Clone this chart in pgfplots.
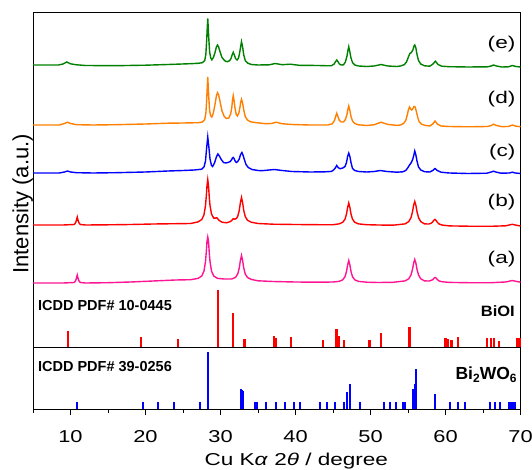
\documentclass[border=0pt]{standalone}
\usepackage{pgfplots}
\pgfplotsset{compat=1.18}
\usepackage{fontspec}
\setmainfont{Liberation Sans}
\definecolor{trA}{RGB}{255,20,147}
\definecolor{trB}{RGB}{255,0,0}
\definecolor{trC}{RGB}{0,0,255}
\definecolor{trD}{RGB}{255,128,0}
\definecolor{trE}{RGB}{0,128,0}
\newcommand\tickfont{\fontsize{17.2}{18}\selectfont}
\newcommand\labfont{\fontsize{17}{19}\selectfont}
\newcommand\pdffont{\bfseries\fontsize{14.5}{16}\selectfont}
\newcommand\sub[1]{\raisebox{-0.35ex}{\fontsize{12}{12}\selectfont #1}}

\begin{document}
\begin{tikzpicture}
\begin{axis}[
  name=main,
  scale only axis, width=487.5pt, height=396pt,
  xmin=5, xmax=70, ymin=0, ymax=396,
  xtick={10,20,...,70}, minor xtick={5,15,...,65},
  ytick=\empty, xtick pos=left,
  tick align=outside, major tick length=6pt, minor tick length=4pt,
  tick style={line width=1pt, black},
  axis line style={line width=1pt},
  xticklabel style={font=\tickfont, xscale=1.27, inner sep=0pt, yshift=-15pt},
  /pgf/number format/assume math mode=true,
  clip=false,
]
% (a)
\addplot[trA, line width=1.4pt] coordinates {
(5,126) (7,126) (9,126) (10.5,126.5) (10.7,128.5) (10.8,131) (10.9,134) (11,131) (11.1,128.5) (11.3,126.5) (12,126) (15,126.3) (18,127) (21,128) (24,129) (26,129.3) (27,130.6) (27.5,133) (27.8,138) (28,147.5) (28.1,156.5) (28.2,167.8) (28.3,172) (28.4,167.8) (28.5,156.5) (28.6,147.5) (28.8,138) (29.1,133) (29.6,130.6) (30.5,130) (31.5,130) (32,131.6) (32.3,135.1) (32.5,141) (32.65,148.5) (32.8,153.5) (32.95,148.5) (33.1,141) (33.3,135) (33.6,131.5) (34.1,129.6) (35,128.2) (37,127.5) (40,127) (43,126.8) (45,127) (45.8,127.6) (46.3,129.2) (46.6,132.3) (46.8,137.5) (46.95,144.1) (47.1,148.5) (47.25,144.1) (47.4,137.5) (47.6,132.3) (47.9,129.2) (48.4,127.6) (49.5,126.8) (51,126.5) (53,126.7) (54.6,128.1) (55.1,130.2) (55.4,134.1) (55.6,139.7) (55.75,145.9) (55.9,149.5) (56.05,145.9) (56.2,139.7) (56.4,134.1) (56.7,130.2) (57.2,128.1) (57.8,128) (58.1,128.6) (58.3,129.4) (58.45,130.7) (58.6,131.5) (58.75,131) (58.9,129.6) (59.1,128.2) (59.5,127.3) (60.5,126.6) (63,126.3) (66,126.3) (68,127) (68.5,127.8) (68.9,128.5) (69.3,127.8) (70,126.8)};
% (b)
\addplot[trB, line width=1.4pt] coordinates {
(5,184) (7,184) (9,184) (10.5,184.5) (10.7,186.5) (10.8,189) (10.9,192) (11,189) (11.1,186.5) (11.3,184.5) (12,184) (15,184.2) (18,184.5) (21,185) (24,185.3) (26,185.5) (27,187.1) (27.5,189.4) (27.8,194.3) (28,203.5) (28.1,212.3) (28.2,223.4) (28.3,229.5) (28.4,223.4) (28.5,212.3) (28.6,203.5) (28.8,195) (29.1,190.8) (29.3,190.9) (29.5,191.3) (29.8,188.7) (30.2,186.8) (30.8,186.2) (31.3,187.4) (31.5,188.6) (31.7,190.3) (31.9,189.9) (32.1,190.3) (32.3,192.7) (32.5,198.5) (32.65,206.3) (32.8,211.5) (32.95,206.3) (33.1,198.5) (33.3,192.4) (33.6,188.7) (34.1,186.8) (35,185.5) (37,184.8) (40,184.5) (43,184.3) (45,184.3) (45.8,185.1) (46.3,186.7) (46.6,189.8) (46.8,195) (46.95,201.6) (47.1,206) (47.25,201.6) (47.4,195) (47.6,189.8) (47.9,186.7) (48.4,185.1) (49.5,184.3) (51,184) (53,183.8) (54.6,185.1) (55.1,187.4) (55.4,191.4) (55.6,197.3) (55.75,203.8) (55.9,207.5) (56.05,203.8) (56.2,197.3) (56.4,191.4) (56.7,187.4) (57.2,185.1) (57.8,185) (58.1,185.8) (58.3,187.2) (58.45,188.8) (58.6,189.6) (58.75,188.6) (58.9,186.8) (59.1,185.2) (59.5,184) (60.5,183.1) (63,182.8) (66,182.7) (68,183.2) (68.5,184) (68.9,184.7) (69.3,184) (70,183)};
% (c)
\addplot[trC, line width=1.4pt] coordinates {
(5,236) (7,236) (8.5,236) (9.2,237) (9.6,238) (10,237) (10.8,236.3) (13,236) (16,236.3) (20,237) (23,238) (25,238.5) (26.5,239) (27.5,239.8) (27.8,242) (28,248) (28.15,261) (28.3,272) (28.45,262) (28.6,250) (28.8,243.5) (28.95,242.5) (29.2,246) (29.45,252) (29.65,255) (29.85,253) (30.1,249.5) (30.4,246.5) (30.7,246) (31,246.5) (31.3,247.5) (31.5,249.5) (31.6,251) (31.7,251.5) (31.8,250.5) (31.95,248) (32.1,246.5) (32.3,247.5) (32.5,250) (32.65,254) (32.85,256.5) (33,254) (33.2,249) (33.4,244.5) (33.7,241.5) (34.2,239.5) (35,238.5) (35.5,238.3) (36.5,239) (37.2,239.5) (38,238.7) (39.5,237.5) (42,237) (44,237.2) (44.8,237.6) (45.1,239.2) (45.3,241) (45.5,243.5) (45.7,241.3) (45.95,240.3) (46.3,241) (46.6,242.5) (46.8,246.5) (46.95,252.6) (47.1,256) (47.25,252.6) (47.4,246.5) (47.6,240.6) (47.9,238.5) (48.4,237.5) (49.5,237) (50.5,237.5) (51.3,238.5) (52.2,237.5) (53.5,236.8) (54.3,237.2) (54.7,238.5) (55,241.5) (55.2,244) (55.4,246) (55.6,249) (55.75,253) (55.9,258) (56.05,254) (56.2,248) (56.4,242) (56.7,239) (57.2,237.3) (57.9,237) (58.3,238.5) (58.6,240.5) (58.9,238.5) (59.4,236.8) (60.5,236) (63,235.5) (65.5,235.8) (66.1,237) (66.4,237.8) (66.7,237) (67.4,235.8) (68.5,236) (68.9,236.8) (69.3,236) (70,235.5)};
% (d)
\addplot[trD, line width=1.4pt] coordinates {
(5,284) (7,284) (8.5,284) (9.2,285.5) (9.6,286.8) (10,285.5) (10.8,284.3) (13,284) (16,284.3) (20,285) (23,285.8) (25,286) (27,286.3) (27.6,287) (27.9,289.5) (28.05,296) (28.15,308) (28.3,332) (28.45,310) (28.55,298) (28.7,293) (28.85,292) (29.05,296) (29.25,304) (29.45,313) (29.6,316.3) (29.75,314) (29.95,307) (30.2,298) (30.5,292.5) (30.8,290.5) (31.1,291) (31.35,295) (31.5,301) (31.6,309) (31.7,313.3) (31.8,309) (31.95,300) (32.1,294.5) (32.25,293) (32.45,296) (32.6,302) (32.7,307) (32.8,309.7) (32.95,306) (33.1,299) (33.3,292.5) (33.6,289) (34,287.2) (34.8,286.3) (36,285.3) (36.8,285.5) (37.4,286.8) (38.2,285.3) (39.5,284.5) (42,284) (44.3,284) (44.9,285.2) (45.2,288.5) (45.35,292.5) (45.5,295.7) (45.65,292.5) (45.85,288.5) (46.1,287) (46.4,287) (46.65,289.5) (46.85,294) (46.95,298.5) (47.1,303) (47.25,298.5) (47.4,292.5) (47.6,288) (47.9,285.5) (48.4,284.2) (49.5,283.5) (50.5,284.3) (51.4,286.8) (52.3,284.6) (53.5,283.6) (54,284) (54.4,285.5) (54.7,288.5) (54.9,294) (55.05,299) (55.2,302) (55.35,300) (55.5,299) (55.65,300.5) (55.8,302.5) (55.95,302) (56.1,298) (56.3,291.5) (56.5,287) (56.8,284.8) (57.3,283.6) (57.9,283) (58.3,285) (58.6,288) (58.9,285) (59.4,283) (60.5,282.5) (63,282.2) (65.6,282.5) (66.1,283.5) (66.4,284.8) (66.8,283.5) (67.5,282.4) (68.4,282.5) (68.9,284) (69.4,282.8) (70,282.3)};
% (e)
\addplot[trE, line width=1.4pt] coordinates {
(5,344) (7,344) (8.4,344) (9,345) (9.5,347) (10,345.2) (10.8,344.2) (12,343.5) (16,343.3) (20,343.8) (23,344.5) (26,345.3) (27,345.7) (27.6,346.3) (27.9,348.5) (28.05,355) (28.15,368) (28.3,390.7) (28.45,369) (28.55,357) (28.7,351) (28.85,349.2) (29.05,351.5) (29.25,356) (29.45,362) (29.6,364) (29.75,362) (29.95,357) (30.2,351.5) (30.6,348) (30.9,347.3) (31.2,348.2) (31.4,350.5) (31.55,354) (31.7,356.7) (31.85,354) (32,350.5) (32.2,349) (32.4,351) (32.55,356) (32.7,363) (32.8,367.3) (32.95,362) (33.1,354) (33.3,348.5) (33.6,346) (34.1,344.5) (35,344) (36.5,344.2) (37.3,345.5) (38.2,344.3) (39.3,344.8) (40.5,343.7) (43,343.5) (44.5,343.2) (44.8,343.3) (45.15,345) (45.35,347.5) (45.5,349) (45.65,347.5) (45.85,345) (46.1,344) (46.4,344.2) (46.65,347) (46.85,352.5) (46.95,357) (47.1,362.3) (47.25,357) (47.4,351) (47.6,346.5) (47.9,344) (48.4,343) (49.5,342.5) (50.5,343) (51.4,344.5) (52.3,343) (53.5,342.5) (54,343) (54.5,344.3) (54.8,347) (55.05,352) (55.25,355.5) (55.45,356.5) (55.65,359) (55.8,363) (55.9,364) (56.05,361) (56.2,354.5) (56.4,348.5) (56.7,345) (57.2,343.2) (57.9,342.8) (58.3,344.8) (58.65,347.8) (59,344.5) (59.5,342.8) (60.5,342.3) (63,342) (65.6,342.2) (66.1,343) (66.4,344) (66.8,343) (67.5,342) (68.4,342.2) (68.9,343.5) (69.4,342.5) (70,342)};
% Bi2WO6 reference, ICDD PDF# 39-0256
\addplot[ycomb, trC, line width=2pt] coordinates {
(10.8,6.7) (19.6,6.7) (21.7,6.7) (23.8,6.7) (27.2,6.7) (28.35,57.3) (32.7,20.3) (32.85,19) (33.0,17.7) (34.6,6.7) (34.85,6.7) (36.0,6.7) (37.4,6.7) (38.55,6.7) (39.75,6.7) (40.65,6.7) (43.2,6.7) (44.15,6.7) (45.3,6.7) (46.45,6.7) (46.85,17.3) (47.2,24.7) (48.65,6.7) (51.75,6.7) (52.55,6.7) (53.45,6.7) (54.3,6.7) (54.6,6.7) (55.7,19.7) (55.87,24.7) (56.05,40) (58.65,14.7) (60.65,6.7) (61.7,6.7) (62.6,6.7) (65.9,6.7) (66.6,6.7) (67.25,6.7) (68.45,6.7) (68.7,6.7) (69.0,6.7) (69.3,6.7)};
\draw[line width=1pt] (axis cs:5,62) -- (axis cs:70,62);
\node[anchor=east, inner sep=0pt, xscale=1.33, font=\labfont] at (axis cs:69.35,364.5) {(e)};
\node[anchor=east, inner sep=0pt, xscale=1.33, font=\labfont] at (axis cs:69.35,309.8) {(d)};
\node[anchor=east, inner sep=0pt, xscale=1.33, font=\labfont] at (axis cs:69.35,257.2) {(c)};
\node[anchor=east, inner sep=0pt, xscale=1.33, font=\labfont] at (axis cs:69.35,207.2) {(b)};
\node[anchor=east, inner sep=0pt, xscale=1.33, font=\labfont] at (axis cs:69.35,149.8) {(a)};
\node[anchor=base west, inner sep=0pt, font=\pdffont] at (axis cs:5.65,99) {ICDD PDF\# 10-0445};
\node[anchor=base west, inner sep=0pt, font=\pdffont] at (axis cs:5.65,37.3) {ICDD PDF\# 39-0256};
\node[anchor=base east, inner sep=0pt, xscale=1.1, font=\bfseries\fontsize{15}{16}\selectfont] at (axis cs:69.27,93) {BiOI};
\node[anchor=base east, inner sep=0pt, font=\bfseries\fontsize{17.5}{19}\selectfont] at (axis cs:69.5,30) {Bi\sub{2}WO\sub{6}};
\node[rotate=90, anchor=base, inner sep=0pt, font=\fontsize{22}{24}\selectfont] at (axis description cs:-0.0097,0.518) {Intensity (a.u.)};
\node[anchor=base, inner sep=0pt, xscale=1.31, font=\tickfont] at (axis description cs:0.54,-0.1415) {Cu K\textit{α} 2\textit{θ} / degree};
\end{axis}
% BiOI reference, ICDD PDF# 10-0445
\begin{axis}[
  at={(0pt,62pt)}, anchor=south west,
  scale only axis, width=487.5pt, height=62pt,
  xmin=5, xmax=70, ymin=0, ymax=62,
  hide axis, clip=false,
]
\addplot[ycomb, trB, line width=2.4pt] coordinates {
(9.7,16) (19.4,9.7) (24.3,7.7) (29.7,57) (31.7,33.7) (33.2,7.7) (37.1,11.3) (37.4,9.3) (39.4,10.3) (43.7,7) (45.45,18) (45.8,11) (46.5,7) (49.85,7) (51.4,13.7) (55.2,20.3) (60.0,9.3) (60.3,8) (60.8,7) (61.7,9.7) (65.55,8.7) (66.1,9.3) (66.45,8.7) (67.1,6) (69.6,8.7) (69.85,8.7)};
\end{axis}
\pgfresetboundingbox
\path (-33pt,-60pt) rectangle (499pt,409pt);
\end{tikzpicture}
\end{document}
